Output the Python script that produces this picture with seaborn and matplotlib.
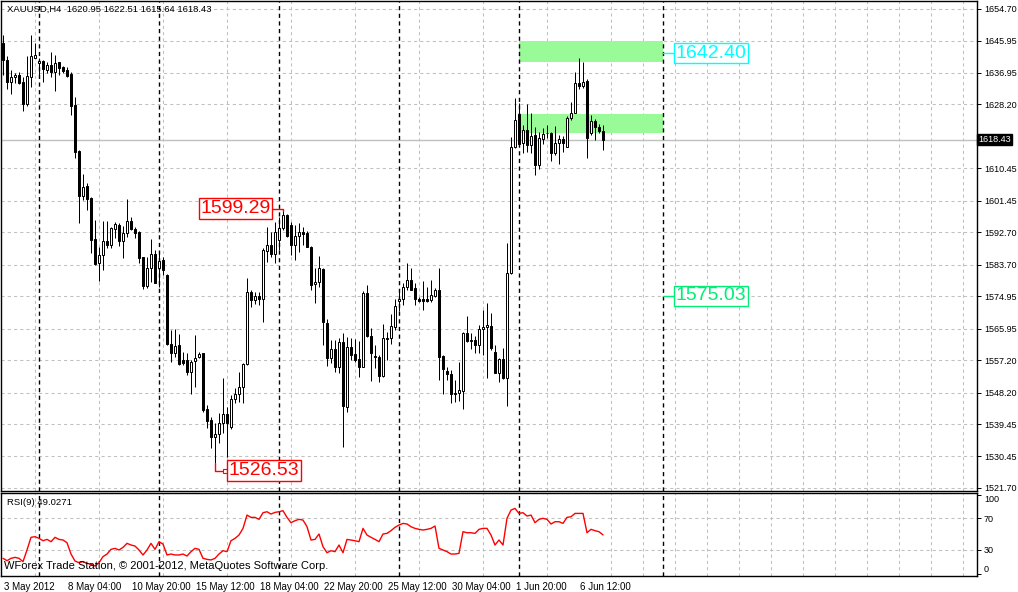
import numpy as np
import matplotlib
matplotlib.use("Agg")
import matplotlib.pyplot as plt
import matplotlib.transforms as mtransforms
import seaborn as sns

# ---- data ----
opens = [1645.2, 1640.5, 1634.5, 1635.7, 1636.4, 1634.5, 1628.3, 1635.9, 1641.2, 1639.6,
         1640.3, 1637.8, 1639.2, 1637.3, 1639.9, 1638.5, 1637.8, 1636.6, 1628.1, 1615.4,
         1602.9, 1605.6, 1602.1, 1590.7, 1584.3, 1586.3, 1590.3, 1589.2, 1593.5, 1594.7,
         1590.4, 1592.4, 1595.8, 1593.5, 1592.8, 1585.7, 1577.8, 1582.7, 1586.6, 1582.7,
         1585.0, 1580.8, 1561.8, 1559.3, 1561.4, 1557.2, 1557.2, 1554.0, 1557.0, 1558.1,
         1559.1, 1543.5, 1540.5, 1535.9, 1536.6, 1539.8, 1542.1, 1538.7, 1546.3, 1547.8,
         1549.6, 1556.1, 1576.2, 1573.9, 1575.1, 1574.1, 1587.6, 1589.2, 1586.8, 1590.5,
         1593.8, 1597.5, 1594.7, 1589.2, 1591.7, 1592.9, 1592.6, 1588.5, 1578.2, 1578.8,
         1582.4, 1567.4, 1557.7, 1560.2, 1555.2, 1562.1, 1544.3, 1560.9, 1558.8, 1557.4,
         1555.4, 1575.7, 1564.0, 1558.4, 1558.0, 1552.8, 1563.2, 1563.2, 1566.5, 1573.7,
         1574.1, 1577.4, 1579.4, 1577.1, 1574.3, 1574.3, 1574.1, 1573.9, 1575.1, 1576.7,
         1558.3, 1554.3, 1553.3, 1548.1, 1548.0, 1548.7, 1564.6, 1562.8, 1562.8, 1561.4,
         1565.7, 1566.3, 1566.7, 1559.5, 1553.7, 1557.4, 1552.1, 1581.3, 1616.5, 1625.5,
         1617.6, 1621.1, 1616.9, 1619.7, 1611.4, 1618.5, 1620.2, 1620.2, 1614.8, 1617.6,
         1618.5, 1616.5, 1624.3, 1625.9, 1634.1, 1633.4, 1634.7, 1620.2, 1623.7, 1621.8,
         1620.95]
highs = [1647.5, 1641.6, 1637.8, 1637.0, 1637.3, 1635.9, 1641.6, 1647.5, 1645.2, 1641.0,
         1640.5, 1640.1, 1642.7, 1641.9, 1640.0, 1638.9, 1638.5, 1637.3, 1630.4, 1615.5,
         1608.9, 1606.3, 1602.6, 1596.1, 1588.7, 1595.9, 1595.9, 1594.2, 1595.6, 1595.2,
         1594.4, 1601.9, 1597.0, 1594.2, 1593.0, 1585.9, 1585.9, 1590.7, 1587.8, 1587.3,
         1585.9, 1581.0, 1565.6, 1565.7, 1564.4, 1559.5, 1559.1, 1557.2, 1564.2, 1559.5,
         1559.2, 1544.7, 1541.5, 1539.6, 1542.6, 1552.1, 1544.3, 1547.5, 1549.4, 1554.0,
         1556.3, 1579.9, 1576.7, 1576.2, 1576.2, 1588.2, 1594.2, 1592.9, 1595.6, 1597.0,
         1599.29, 1597.9, 1595.6, 1594.7, 1595.2, 1594.2, 1593.1, 1589.0, 1582.7, 1586.0,
         1582.7, 1568.5, 1562.8, 1562.8, 1563.2, 1564.6, 1563.5, 1563.2, 1563.0, 1562.6,
         1576.5, 1578.0, 1566.0, 1561.4, 1558.6, 1567.2, 1565.1, 1570.0, 1574.1, 1576.7,
         1578.7, 1584.1, 1582.7, 1578.5, 1574.8, 1579.3, 1577.6, 1579.4, 1577.1, 1582.7,
         1558.6, 1555.4, 1554.4, 1551.7, 1556.7, 1565.1, 1569.4, 1564.6, 1563.9, 1566.9,
         1571.1, 1573.1, 1570.2, 1561.4, 1557.7, 1560.5, 1589.8, 1619.1, 1629.9, 1628.5,
         1622.5, 1628.3, 1625.7, 1622.0, 1620.6, 1621.6, 1622.5, 1620.6, 1622.2, 1619.7,
         1619.4, 1625.0, 1628.9, 1637.3, 1641.0, 1640.1, 1635.2, 1625.3, 1624.1, 1622.9,
         1622.51]
lows = [1636.4, 1632.4, 1631.1, 1634.1, 1633.9, 1626.5, 1627.8, 1633.1, 1641.0, 1635.4,
        1634.5, 1637.0, 1635.7, 1632.0, 1636.4, 1637.0, 1635.9, 1625.3, 1613.2, 1595.4,
        1601.7, 1598.9, 1587.0, 1583.6, 1579.2, 1582.2, 1588.2, 1588.2, 1591.0, 1588.9,
        1585.6, 1591.5, 1593.3, 1591.0, 1584.1, 1576.9, 1577.1, 1579.0, 1578.5, 1577.6,
        1580.8, 1561.5, 1556.8, 1558.1, 1555.8, 1555.8, 1553.0, 1547.9, 1549.8, 1557.7,
        1542.9, 1538.3, 1532.7, 1526.53, 1534.1, 1536.9, 1530.4, 1538.2, 1545.2, 1545.6,
        1545.4, 1555.8, 1572.0, 1572.8, 1572.5, 1567.9, 1584.5, 1585.9, 1584.1, 1587.8,
        1593.3, 1591.5, 1586.4, 1585.0, 1587.3, 1589.2, 1588.5, 1576.7, 1573.0, 1577.6,
        1561.4, 1555.6, 1556.3, 1554.0, 1553.7, 1533.2, 1542.9, 1557.2, 1556.8, 1552.4,
        1555.2, 1563.7, 1551.5, 1554.9, 1551.2, 1552.6, 1557.2, 1561.8, 1565.6, 1570.9,
        1572.5, 1576.8, 1576.7, 1572.5, 1573.4, 1571.1, 1573.4, 1573.4, 1574.6, 1551.7,
        1547.9, 1551.7, 1545.4, 1545.6, 1545.9, 1543.5, 1562.3, 1560.2, 1559.2, 1559.1,
        1558.6, 1552.1, 1560.0, 1553.5, 1551.2, 1551.9, 1544.4, 1581.1, 1616.0, 1616.9,
        1614.8, 1615.1, 1614.6, 1608.6, 1610.2, 1617.2, 1618.8, 1612.6, 1614.1, 1611.6,
        1615.1, 1616.3, 1624.0, 1625.7, 1632.4, 1632.9, 1613.2, 1619.7, 1618.3, 1620.2,
        1615.64]
closes = [1640.4, 1634.5, 1635.7, 1636.4, 1634.2, 1628.3, 1636.1, 1641.6, 1641.9, 1640.3,
          1637.9, 1639.2, 1637.3, 1639.8, 1638.2, 1637.6, 1636.2, 1627.8, 1615.1, 1602.9,
          1605.4, 1601.9, 1590.6, 1583.9, 1586.4, 1590.3, 1589.2, 1593.8, 1595.0, 1590.3,
          1592.4, 1595.8, 1593.6, 1592.6, 1585.5, 1577.8, 1582.7, 1586.6, 1578.7, 1584.8,
          1582.2, 1561.8, 1559.3, 1561.2, 1556.0, 1556.3, 1554.0, 1556.8, 1557.9, 1558.9,
          1543.3, 1540.4, 1535.9, 1536.6, 1539.8, 1542.1, 1539.6, 1546.3, 1547.8, 1549.6,
          1556.1, 1576.2, 1573.9, 1575.1, 1574.1, 1587.8, 1589.2, 1586.8, 1592.9, 1593.8,
          1597.5, 1591.7, 1589.2, 1591.7, 1592.9, 1592.2, 1588.7, 1578.0, 1578.8, 1582.7,
          1567.9, 1557.7, 1560.2, 1555.2, 1562.1, 1544.4, 1560.9, 1558.6, 1557.2, 1555.4,
          1575.9, 1563.9, 1559.1, 1558.0, 1552.8, 1563.2, 1563.0, 1566.7, 1572.2, 1574.1,
          1577.4, 1579.4, 1576.8, 1574.3, 1573.7, 1573.7, 1573.7, 1575.3, 1576.7, 1558.1,
          1554.6, 1553.3, 1547.9, 1547.8, 1548.9, 1564.6, 1562.6, 1562.6, 1561.4, 1565.7,
          1566.5, 1566.9, 1560.5, 1553.7, 1557.4, 1552.1, 1581.3, 1616.5, 1624.0, 1617.2,
          1621.1, 1616.9, 1619.4, 1611.4, 1618.8, 1620.0, 1620.4, 1614.8, 1617.4, 1618.5,
          1617.6, 1624.3, 1625.9, 1634.1, 1633.4, 1634.5, 1618.9, 1623.7, 1621.8, 1620.9,
          1618.43]
rsi = [19.5, 16.5, 19.5, 20.7, 19.5, 15.3, 30.0, 46.0, 46.8, 44.7,
       41.7, 43.4, 40.5, 46.0, 43.4, 42.6, 39.2, 24.9, 16.1, 14.0,
       15.3, 13.2, 11.9, 9.8, 14.0, 21.6, 24.9, 30.8, 32.1, 30.0,
       33.3, 38.4, 36.3, 35.0, 30.0, 23.7, 30.0, 38.4, 30.8, 40.5,
       37.5, 23.7, 24.9, 23.7, 23.7, 24.9, 22.4, 27.9, 32.1, 30.8,
       19.5, 18.2, 17.4, 19.5, 24.9, 29.1, 27.9, 41.7, 44.7, 48.9,
       57.3, 74.1, 71.2, 71.2, 68.7, 77.1, 78.3, 75.4, 77.5, 78.3,
       79.6, 71.2, 64.5, 67.0, 68.7, 67.8, 59.4, 42.6, 43.4, 50.2,
       34.2, 26.6, 29.1, 27.9, 36.3, 26.6, 43.4, 42.6, 41.7, 40.5,
       57.3, 48.9, 46.0, 43.4, 40.5, 50.2, 51.0, 54.4, 58.6, 61.5,
       63.6, 62.8, 59.4, 57.3, 56.1, 55.2, 56.1, 57.3, 60.3, 32.1,
       30.0, 27.9, 24.9, 24.9, 25.8, 53.1, 51.8, 51.8, 51.0, 56.1,
       57.3, 57.3, 48.9, 36.3, 42.6, 36.3, 70.0, 80.4, 82.5, 76.2,
       77.1, 72.9, 74.1, 64.5, 68.7, 70.0, 68.7, 62.8, 65.7, 65.7,
       63.6, 71.2, 72.0, 76.2, 76.2, 76.2, 51.8, 56.1, 54.4, 53.1,
       49.03]

price_ticks = [1654.70, 1645.95, 1636.95, 1628.20, 1610.45, 1601.45, 1592.70, 1583.70,
               1574.95, 1565.95, 1557.20, 1548.20, 1539.45, 1530.45, 1521.70]
rsi_ticks = [0, 30, 70, 100]
date_labels = ["3 May 2012", "8 May 04:00", "10 May 20:00", "15 May 12:00", "18 May 04:00",
               "22 May 20:00", "25 May 12:00", "30 May 04:00", "1 Jun 20:00", "6 Jun 12:00"]
date_bars = [0, 16, 32, 48, 64, 80, 96, 112, 128, 144]
week_separators = [9, 39, 69, 99, 129]
user_vline = 165

zone_start = [129, 129]
zone_end = [165, 165]
zone_bottom = [1640.0, 1620.2]
zone_top = [1645.7, 1625.5]

bid_price = 1618.43
level_prices = [1642.40, 1575.03]
level_colors = ["#00ffff", "#00ee76"]
swing_high_bar, swing_high = 70, 1599.29
swing_low_bar, swing_low = 53, 1526.53

bars = np.arange(len(closes))
o = np.array(opens); h = np.array(highs); l = np.array(lows); c = np.array(closes)

# ---- figure ----
sns.set_style("white")
plt.rcParams["font.family"] = ["Liberation Sans", "DejaVu Sans"]
fig = plt.figure(figsize=(10.18, 5.92), dpi=100)
ax = fig.add_axes([1 / 1018, 1 - 490.5 / 592, 976 / 1018, 490 / 592])
ax2 = fig.add_axes([1 / 1018, 1 - 575.5 / 592, 976 / 1018, 83 / 592], sharex=ax)

grid_kw = dict(color="#c0c0c0", lw=0.75, linestyle=(0, (3, 3)))
px = 0.72  # one pixel in points

for a in (ax, ax2):
    a.set_facecolor("white")
    for s in a.spines.values():
        s.set_color("black")
        s.set_linewidth(1.0)
    a.set_axisbelow(True)
    a.set_xticks(np.arange(0, 244, 8), minor=True)
    a.grid(which="minor", axis="x", **grid_kw)
    for b in week_separators + [user_vline]:
        a.axvline(b, color="black", lw=1.0, linestyle=(0, (3, 2.5)), zorder=2)

ax.set_xlim(-0.5, 243.5)
ax.set_ylim(1520.99, 1657.06)

# zones
for xs, xe, yb, yt in zip(zone_start, zone_end, zone_bottom, zone_top):
    ax.fill_between([xs, xe], yb, yt, color="#98fb98", lw=0, zorder=1)

# bid line
ax.axhline(bid_price, color="#c0c0c0", lw=1.0, zorder=1.5)

# candles
ax.vlines(bars, l, h, color="black", lw=px, zorder=3)
up = c >= o
body_lo = np.minimum(o, c)
body_h = np.maximum(np.abs(c - o), 0.05)
ax.bar(bars[up], body_h[up], bottom=body_lo[up], width=0.5, color="white",
       edgecolor="black", lw=px, zorder=4)
ax.bar(bars[~up], body_h[~up], bottom=body_lo[~up], width=0.5, color="black",
       edgecolor="black", lw=px, zorder=4)

# price axis
ax.yaxis.tick_right()
ax.set_yticks(price_ticks)
ax.set_yticklabels([f"{p:.2f}" for p in price_ticks])
ax.grid(which="major", axis="y", **grid_kw)
ax.tick_params(axis="y", which="major", direction="out", length=3, width=0.7,
               labelsize=6.5, pad=2, colors="black")
ax.tick_params(axis="x", which="both", bottom=False, labelbottom=False)

bt = mtransforms.blended_transform_factory(ax.transAxes, ax.transData)
ax.text(1.0015, bid_price, "1618.43", transform=bt, ha="left", va="center",
        fontsize=6.5, color="white", zorder=10, clip_on=False,
        bbox=dict(boxstyle="square,pad=0.15", fc="black", ec="black"))

# title
ax.text(6 / 976, 0.981, "XAUUSD,H4  1620.95 1622.51 1615.64 1618.43", transform=ax.transAxes,
        ha="left", va="center", fontsize=6.8, color="black")

# level labels
for p, col in zip(level_prices, level_colors):
    ax.plot([user_vline, 168.3], [p, p], color=col, lw=1.0, zorder=5)
    ax.text(177.0, p, f"{p:.2f}", ha="center", va="center", fontsize=14, color=col, zorder=6,
            bbox=dict(boxstyle="square,pad=0.08", fc="white", ec=col, lw=1.0))

# swing labels
ax.plot([67.3, swing_high_bar, swing_high_bar], [swing_high, swing_high, swing_high - 0.8],
        color="red", lw=1.0, zorder=5)
ax.text(58.1, swing_high, f"{swing_high:.2f}", ha="center", va="center", fontsize=14,
        color="red", zorder=6, bbox=dict(boxstyle="square,pad=0.08", fc="white", ec="red", lw=1.0))
ax.plot([swing_low_bar, swing_low_bar, 55.6], [swing_low + 2.0, swing_low, swing_low],
        color="red", lw=1.0, zorder=5)
ax.plot([55.6], [swing_low], marker="s", ms=3, mfc="white", mec="red", mew=0.8, zorder=5)
ax.text(65.2, swing_low, f"{swing_low:.2f}", ha="center", va="center", fontsize=14,
        color="red", zorder=6, bbox=dict(boxstyle="square,pad=0.08", fc="white", ec="red", lw=1.0))

# ---- RSI panel ----
sns.lineplot(x=bars, y=rsi, ax=ax2, color="red", lw=1.0, zorder=5)
ax2.set_ylim(-2.2, 102.6)
ax2.yaxis.tick_right()
ax2.set_yticks(rsi_ticks)
ax2.set_yticklabels([str(t) for t in rsi_ticks])
for v in (30, 70):
    ax2.axhline(v, **grid_kw, zorder=0.5)
ax2.tick_params(axis="y", direction="out", length=3, width=0.7, labelsize=6.5, pad=2,
                colors="black")
lbls = ax2.get_yticklabels()
lbls[0].set_va("bottom")
lbls[-1].set_va("top")
ax2.set_ylabel("")

ax2.set_xticks(date_bars)
ax2.set_xticklabels(date_labels, ha="left")
ax2.tick_params(axis="x", which="major", direction="out", length=3, width=0.7,
                labelsize=7, pad=1.5, colors="black")
ax2.tick_params(axis="x", which="minor", length=0)
for t in ax2.get_xticklabels():
    t.set_transform(t.get_transform() + mtransforms.ScaledTranslation(1 / 100, 0, fig.dpi_scale_trans))

ax2.text(6 / 976, 0.885, "RSI(9) 49.0271", transform=ax2.transAxes, ha="left", va="center",
         fontsize=6.8, color="black")
ax2.text(3 / 976, 0.115, "WForex Trade Station, \u00a9 2001-2012, MetaQuotes Software Corp.",
         transform=ax2.transAxes, ha="left", va="center", fontsize=8, color="black", zorder=6)

fig.savefig("out.png", dpi=100)
